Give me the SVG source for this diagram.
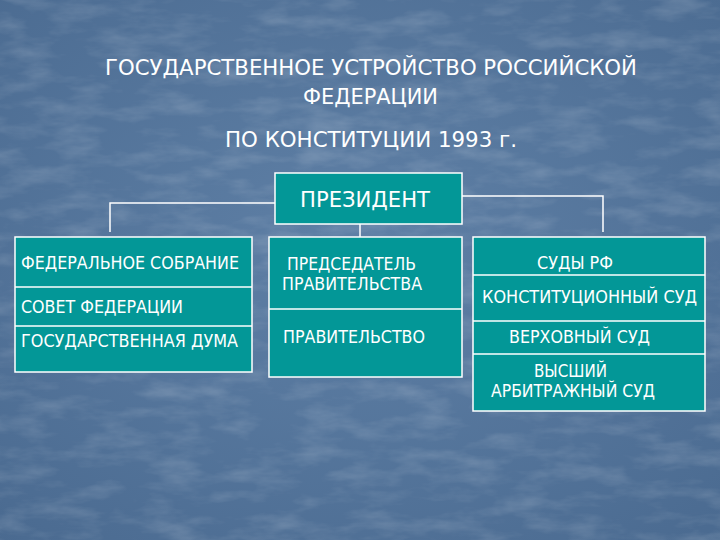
<svg xmlns="http://www.w3.org/2000/svg" width="720" height="540" viewBox="0 0 720 540">
  <defs>
    <filter id="tex" x="0" y="0" width="100%" height="100%">
      <feTurbulence type="fractalNoise" baseFrequency="0.02 0.06" numOctaves="4" seed="7" result="n"/>
      <feColorMatrix in="n" type="matrix" values="0 0 0 0 1  0 0 0 0 1  0 0 0 0 1  0 0 0 0.9 -0.38" result="w"/>
      <feComposite in="w" in2="SourceGraphic" operator="in"/>
    </filter>
    <radialGradient id="bg" cx="50%" cy="45%" r="75%">
      <stop offset="0" stop-color="#5f80a6"/>
      <stop offset="1" stop-color="#4a6a90"/>
    </radialGradient>
  </defs>
  <style>
    .box{fill:#039797;stroke:#ffffff;stroke-width:1.5}
    .div{stroke:#ffffff;stroke-width:1.3;fill:none}
    .con{stroke:#ffffff;stroke-width:1.5;fill:none}
    text{font-family:"DejaVu Sans Condensed","DejaVu Sans","Noto Sans",sans-serif;fill:#ffffff}
    .t{font-size:21px}
    .s{font-size:17px}
  </style>
  <rect x="0" y="0" width="720" height="540" fill="url(#bg)"/>
  <rect x="0" y="0" width="720" height="540" fill="#ffffff" filter="url(#tex)" opacity="0.35"/>

  <g id="title">
    <text class="t" x="105" y="75" textLength="532" lengthAdjust="spacingAndGlyphs">ГОСУДАРСТВЕННОЕ УСТРОЙСТВО РОССИЙСКОЙ</text>
    <text class="t" x="303" y="104" textLength="135" lengthAdjust="spacingAndGlyphs">ФЕДЕРАЦИИ</text>
    <text class="t" x="225" y="147" textLength="292" lengthAdjust="spacingAndGlyphs">ПО КОНСТИТУЦИИ 1993 г.</text>
  </g>

  <g id="connectors">
    <polyline class="con" points="275,203 110,203 110,232"/>
    <polyline class="con" points="462,196 603,196 603,232"/>
    <line class="con" x1="360" y1="224" x2="360" y2="237"/>
  </g>

  <g id="president">
    <rect class="box" x="275" y="173" width="187" height="51"/>
    <text class="t" x="300" y="207" textLength="130" lengthAdjust="spacingAndGlyphs">ПРЕЗИДЕНТ</text>
  </g>

  <g id="federal-assembly">
    <rect class="box" x="15" y="237" width="237" height="135"/>
    <line class="div" x1="15" y1="287" x2="252" y2="287"/>
    <line class="div" x1="15" y1="326" x2="252" y2="326"/>
    <text class="s" x="21" y="269" textLength="218" lengthAdjust="spacingAndGlyphs">ФЕДЕРАЛЬНОЕ СОБРАНИЕ</text>
    <text class="s" x="21" y="313" textLength="162" lengthAdjust="spacingAndGlyphs">СОВЕТ ФЕДЕРАЦИИ</text>
    <text class="s" x="21" y="347" textLength="217" lengthAdjust="spacingAndGlyphs">ГОСУДАРСТВЕННАЯ ДУМА</text>
  </g>

  <g id="government">
    <rect class="box" x="269" y="237" width="193" height="140"/>
    <line class="div" x1="269" y1="309" x2="462" y2="309"/>
    <text class="s" x="287" y="270" textLength="129" lengthAdjust="spacingAndGlyphs">ПРЕДСЕДАТЕЛЬ</text>
    <text class="s" x="282" y="290" textLength="140" lengthAdjust="spacingAndGlyphs">ПРАВИТЕЛЬСТВА</text>
    <text class="s" x="283" y="343" textLength="142" lengthAdjust="spacingAndGlyphs">ПРАВИТЕЛЬСТВО</text>
  </g>

  <g id="courts">
    <rect class="box" x="473" y="237" width="232" height="174"/>
    <line class="div" x1="473" y1="275" x2="705" y2="275"/>
    <line class="div" x1="473" y1="321" x2="705" y2="321"/>
    <line class="div" x1="473" y1="354" x2="705" y2="354"/>
    <text class="s" x="537" y="269" textLength="76" lengthAdjust="spacingAndGlyphs">СУДЫ РФ</text>
    <text class="s" x="482" y="303" textLength="215" lengthAdjust="spacingAndGlyphs">КОНСТИТУЦИОННЫЙ СУД</text>
    <text class="s" x="509" y="343" textLength="141" lengthAdjust="spacingAndGlyphs">ВЕРХОВНЫЙ СУД</text>
    <text class="s" x="534" y="377" textLength="73" lengthAdjust="spacingAndGlyphs">ВЫСШИЙ</text>
    <text class="s" x="491" y="397" textLength="164" lengthAdjust="spacingAndGlyphs">АРБИТРАЖНЫЙ СУД</text>
  </g>
</svg>
